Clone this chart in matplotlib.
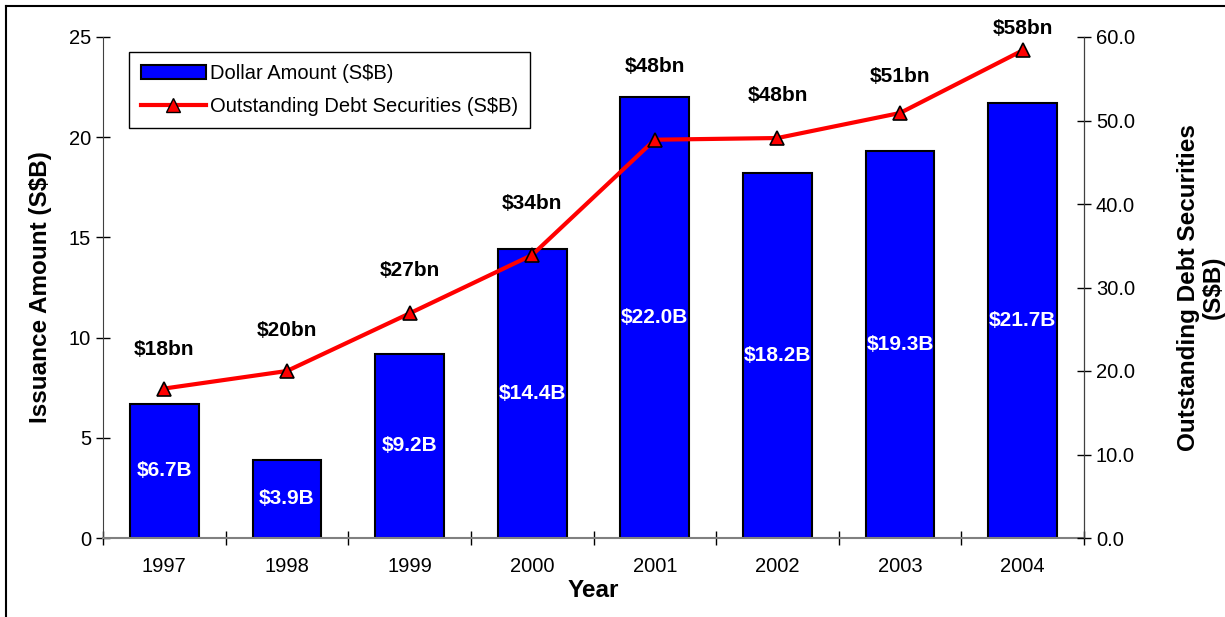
import matplotlib
matplotlib.use('Agg')
import matplotlib.pyplot as plt
from matplotlib.lines import Line2D
import numpy as np

plt.rcParams['font.family'] = ['Liberation Sans', 'DejaVu Sans']

# chart data
years = ['1997', '1998', '1999', '2000', '2001', '2002', '2003', '2004']
issuance = [6.7, 3.9, 9.2, 14.4, 22.0, 18.2, 19.3, 21.7]
issuance_labels = ['$6.7B', '$3.9B', '$9.2B', '$14.4B', '$22.0B', '$18.2B', '$19.3B', '$21.7B']
outstanding = [17.9, 20.0, 26.9, 33.9, 47.7, 47.9, 50.9, 58.4]
outstanding_labels = ['$18bn', '$20bn', '$27bn', '$34bn', '$48bn', '$48bn', '$51bn', '$58bn']

# vertical pixel offsets of the line labels above the markers
label_offsets = [39, 41, 43, 51, 73, 43, 36, 22]

fig = plt.figure(figsize=(12.25, 6.17), dpi=100)
ax = fig.add_axes([103 / 1225, 1 - 538 / 617, (1084 - 103) / 1225, (538 - 37) / 617])
ax2 = ax.twinx()

x = np.arange(len(years))

# bars on the left axis
bars = ax.bar(x, issuance, width=0.56, color='#0000FF', edgecolor='black', linewidth=1.5, zorder=2)
for xi, val, lab in zip(x, issuance, issuance_labels):
    ax.text(xi, val / 2, lab, ha='center', va='center', color='white',
            fontsize=15, fontweight='bold', zorder=3)

ax.set_xlim(-0.5, len(years) - 0.5)
ax.set_ylim(0, 25)
ax.set_yticks([0, 5, 10, 15, 20, 25])
ax.set_xticks(x)
ax.set_xticklabels(years)
ax.set_xticks(np.arange(-0.5, len(years) + 0.5, 1), minor=True)
ax.tick_params(axis='x', which='major', length=0, labelsize=14.5, pad=14)
ax.tick_params(axis='x', which='minor', length=10, direction='inout', width=1)
ax.tick_params(axis='y', length=10, direction='inout', labelsize=14.5, width=1)
ax.set_xlabel('Year', fontsize=17.5, fontweight='bold', labelpad=2)
ax.set_ylabel('Issuance Amount (S$B)', fontsize=17.5, fontweight='bold', labelpad=12)

for side in ['top']:
    ax.spines[side].set_visible(False)
    ax2.spines[side].set_visible(False)
ax.spines['bottom'].set_color('#808080')
ax.spines['bottom'].set_linewidth(1.5)
ax.spines['left'].set_color('#404040')
ax2.spines['right'].set_color('#404040')
ax2.spines['left'].set_visible(False)
ax2.spines['bottom'].set_visible(False)

# line on the right axis
ax2.plot(x, outstanding, color='#FF0000', linewidth=3, marker='^', markersize=10,
         markerfacecolor='#FF0000', markeredgecolor='black', markeredgewidth=1.2, zorder=4)
for xi, val, lab in zip(x, outstanding, outstanding_labels):
    off = label_offsets[xi]
    ax2.annotate(lab, (xi, val), xytext=(0, off), textcoords='offset pixels',
                 ha='center', va='center', fontsize=15, fontweight='bold')

ax2.set_ylim(0, 60)
ax2.set_yticks([0, 10, 20, 30, 40, 50, 60])
ax2.set_yticklabels(['%.1f' % v for v in [0, 10, 20, 30, 40, 50, 60]])
ax2.tick_params(axis='y', length=10, direction='inout', labelsize=14.5, width=1)
ax2.set_ylabel('Outstanding Debt Securities\n(S$B)', fontsize=17.5, fontweight='bold',
               labelpad=30, linespacing=1.1)

# legend
handles = [
    plt.Rectangle((0, 0), 1, 1, facecolor='#0000FF', edgecolor='black', linewidth=1.5),
    Line2D([0], [0], color='#FF0000', linewidth=3, marker='^', markersize=10,
           markerfacecolor='#FF0000', markeredgecolor='black'),
]
leg = ax2.legend(handles, ['Dollar Amount (S$B)', 'Outstanding Debt Securities (S$B)'],
                 loc='upper left', bbox_to_anchor=(0.0265, 0.97), borderaxespad=0,
                 fontsize=14.5, frameon=True, fancybox=False, edgecolor='black',
                 framealpha=1, handlelength=3.2, handletextpad=0.2, borderpad=0.6,
                 labelspacing=0.7)
leg.get_frame().set_linewidth(1)

# figure border (top and left visible, rest cut off)
fig.add_artist(Line2D([6 / 1225, 1], [1 - 6 / 617, 1 - 6 / 617], color='black', linewidth=1.5))
fig.add_artist(Line2D([6 / 1225, 6 / 1225], [0, 1 - 6 / 617], color='black', linewidth=1.5))

fig.savefig('out.png', dpi=100)
